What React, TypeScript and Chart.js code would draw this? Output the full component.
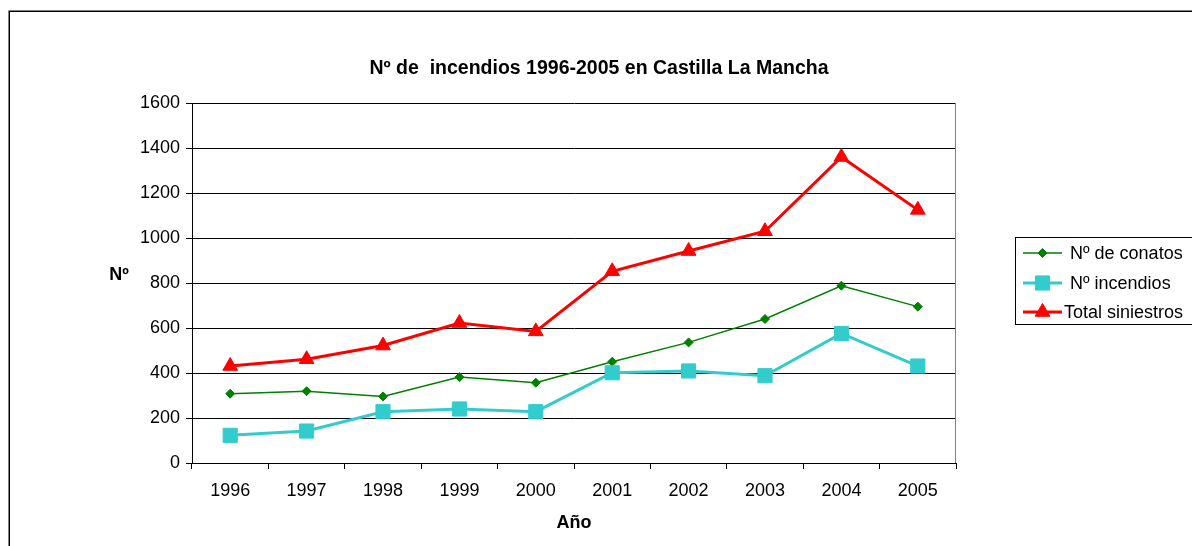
import React, { useEffect, useRef } from 'react';
import { Chart, registerables } from 'chart.js';
import { drawPoint } from 'chart.js/helpers';

Chart.register(...registerables);

// ---- data ----
const years = ['1996', '1997', '1998', '1999', '2000', '2001', '2002', '2003', '2004', '2005'];
const conatos = [308, 319, 296, 382, 357, 450, 536, 640, 788, 695];
const incendios = [123, 142, 228, 240, 228, 401, 409, 388, 576, 431];
const totalSiniestros = [431, 461, 522, 622, 585, 852, 942, 1030, 1360, 1125];

const seriesNames = ['Nº de conatos', 'Nº incendios', 'Total siniestros'];
const chartTitle = 'Nº de  incendios 1996-2005 en Castilla La Mancha';
const xAxisTitle = 'Año';
const yAxisTitle = 'Nº';
const yMin = 0;
const yMax = 1600;
const yStep = 200;

const FONT = '"Liberation Sans", Arial, sans-serif';

const seriesStyles = [
  { color: '#008000', width: 1.5, point: 'rectRot', radius: 4.5, order: 3 },
  { color: '#33CCCC', width: 3, point: 'rect', radius: 10, order: 2 },
  { color: '#FF0000', width: 3, point: 'triangle', radius: 8.5, order: 1 },
];

const decorPlugin = {
  id: 'decor',
  afterDraw(chart: any) {
    const ctx = chart.ctx as CanvasRenderingContext2D;
    const { top, bottom, right, left } = chart.chartArea;
    ctx.save();

    // right border of plot area
    ctx.strokeStyle = '#808080';
    ctx.lineWidth = 1;
    ctx.beginPath();
    ctx.moveTo(Math.round(right) - 0.5, top);
    ctx.lineTo(Math.round(right) - 0.5, bottom);
    ctx.stroke();

    // title
    ctx.fillStyle = '#000';
    ctx.font = `bold 19.5px ${FONT}`;
    ctx.textAlign = 'center';
    ctx.textBaseline = 'middle';
    ctx.fillText(chartTitle, 599, 69);

    // axis titles
    ctx.font = `bold 18px ${FONT}`;
    ctx.fillText(yAxisTitle, 119, 275);
    ctx.fillText(xAxisTitle, (left + right) / 2, 523);

    // legend
    ctx.strokeStyle = '#000';
    ctx.lineWidth = 1;
    ctx.strokeRect(1015.5, 237.5, 300, 87);
    const rowsY = [253, 283, 312];
    const textX = [1070, 1070, 1064];
    ctx.font = `18px ${FONT}`;
    ctx.textAlign = 'left';
    seriesStyles.forEach((s, i) => {
      const y = rowsY[i];
      ctx.strokeStyle = s.color;
      ctx.lineWidth = s.width;
      ctx.beginPath();
      ctx.moveTo(1023, y);
      ctx.lineTo(1062, y);
      ctx.stroke();
      ctx.fillStyle = s.color;
      ctx.strokeStyle = s.color;
      ctx.lineWidth = 1;
      drawPoint(ctx, { pointStyle: s.point as any, radius: s.radius, rotation: 0, borderWidth: 1 } as any, 1042.5, y);
      ctx.fillStyle = '#000';
      ctx.fillText(seriesNames[i], textX[i], y + 1);
    });

    // outer border
    ctx.strokeStyle = '#000';
    ctx.lineWidth = 1.5;
    ctx.strokeRect(9.25, 11.25, 1400, 700);

    ctx.restore();
  },
};

export default function App() {
  const canvasRef = useRef<HTMLCanvasElement | null>(null);

  useEffect(() => {
    if (!canvasRef.current) return;
    const seriesData = [conatos, incendios, totalSiniestros];
    const chart = new Chart(canvasRef.current, {
      type: 'line',
      data: {
        labels: years,
        datasets: seriesData.map((d, i) => ({
          label: seriesNames[i],
          data: d,
          borderColor: seriesStyles[i].color,
          backgroundColor: seriesStyles[i].color,
          borderWidth: seriesStyles[i].width,
          pointStyle: seriesStyles[i].point as any,
          pointRadius: seriesStyles[i].radius,
          pointBorderWidth: 1,
          pointBorderColor: seriesStyles[i].color,
          pointBackgroundColor: seriesStyles[i].color,
          tension: 0,
          fill: false,
          order: seriesStyles[i].order,
        })),
      },
      options: {
        responsive: false,
        animation: false,
        layout: { padding: { left: 0, right: 236, top: 103, bottom: 0 } },
        plugins: {
          legend: { display: false },
          title: { display: false },
          tooltip: { enabled: false },
        },
        scales: {
          x: {
            type: 'category',
            offset: true,
            grid: {
              display: true,
              drawOnChartArea: false,
              drawTicks: true,
              tickLength: 6,
              color: '#000',
              offset: true,
            },
            border: { display: true, color: '#000', width: 1 },
            ticks: {
              color: '#000',
              font: { family: FONT, size: 18 },
              padding: 11,
              maxRotation: 0,
              autoSkip: false,
            },
            afterFit: (s: any) => {
              s.height = 83;
            },
          },
          y: {
            min: yMin,
            max: yMax,
            ticks: {
              stepSize: yStep,
              color: '#000',
              font: { family: FONT, size: 18 },
              padding: 6,
              callback: (v: any) => String(v),
            },
            grid: { color: '#000', tickLength: 6, drawTicks: true },
            border: { display: true, color: '#000', width: 1 },
            afterFit: (s: any) => {
              s.width = 192;
            },
          },
        },
      },
      plugins: [decorPlugin],
    });
    return () => chart.destroy();
  }, []);

  return (
    <div style={{ position: 'fixed', left: 0, top: 0, width: 1192, height: 546, background: '#fff' }}>
      <canvas ref={canvasRef} width={1192} height={546} />
    </div>
  );
}
